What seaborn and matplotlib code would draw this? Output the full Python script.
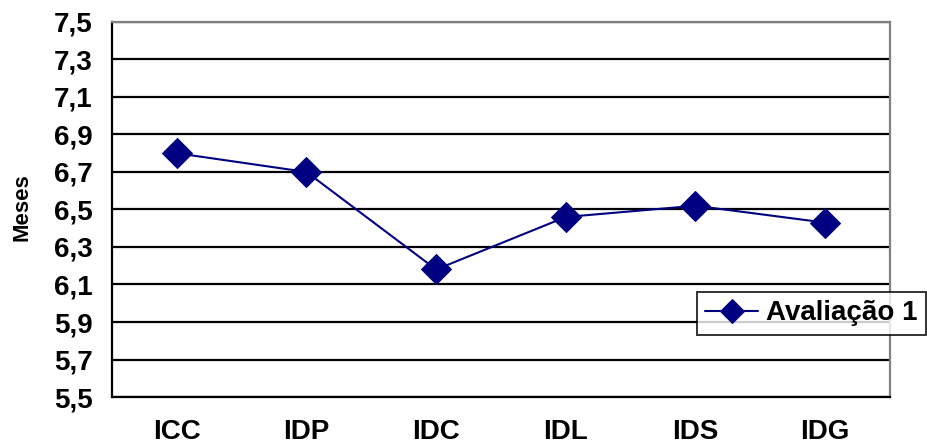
import numpy as np
import pandas as pd
import seaborn as sns
import matplotlib
matplotlib.use("Agg")
import matplotlib.pyplot as plt
from matplotlib.ticker import FuncFormatter, FixedLocator

# data
categories = ["ICC", "IDP", "IDC", "IDL", "IDS", "IDG"]
avaliacao_1 = [6.80, 6.70, 6.18, 6.46, 6.52, 6.43]
y_ticks = [5.5, 5.7, 5.9, 6.1, 6.3, 6.5, 6.7, 6.9, 7.1, 7.3, 7.5]

df = pd.DataFrame({"Indice": categories, "Meses": avaliacao_1})

sns.set_theme(style="white")
plt.rcParams["font.family"] = ["Liberation Sans", "DejaVu Sans"]
plt.rcParams["font.weight"] = "bold"
plt.rcParams["text.color"] = "black"
plt.rcParams["axes.labelcolor"] = "black"
plt.rcParams["xtick.color"] = "black"
plt.rcParams["ytick.color"] = "black"

fig = plt.figure(figsize=(9.28, 4.48), dpi=100)
ax = fig.add_axes([0.1207, 0.1138, 0.8383, 0.8372])

sns.lineplot(
    data=df, x="Indice", y="Meses", sort=False,
    color="#000080", linewidth=1.5,
    marker="D", markersize=15, markeredgecolor="#000080",
    label="Avaliação 1", ax=ax, zorder=3,
)

# axes limits and grid
ax.set_xlim(-0.5, len(categories) - 0.5)
ax.set_ylim(5.5, 7.5)
ax.set_yticks(y_ticks)
ax.yaxis.set_major_formatter(FuncFormatter(lambda v, p: f"{v:.1f}".replace(".", ",")))
ax.grid(axis="y", color="black", linewidth=1.6)
ax.set_axisbelow(True)

# category labels centred, tick marks at boundaries
ax.set_xticks(range(len(categories)))
ax.set_xticklabels(categories)
ax.xaxis.set_minor_locator(FixedLocator(np.arange(-0.5, len(categories), 1.0)))
ax.tick_params(axis="x", which="major", length=0, pad=16, labelsize=20)
ax.tick_params(axis="x", which="minor", length=6, width=1.4, color="black", direction="out")
ax.tick_params(axis="y", length=6, width=1.4, color="black", direction="out", labelsize=20, pad=8)
for lab in ax.get_xticklabels() + ax.get_yticklabels():
    lab.set_fontweight("bold")
    lab.set_color("black")

for side in ["left", "bottom"]:
    ax.spines[side].set_color("black")
    ax.spines[side].set_linewidth(1.6)
for side in ["top", "right"]:
    ax.spines[side].set_color("#808080")
    ax.spines[side].set_linewidth(1.6)

ax.set_xlabel("")
ax.set_ylabel("Meses", fontsize=16, fontweight="bold", color="black")
ax.yaxis.set_label_coords(33 / 928, 1 - 207 / 448, transform=fig.transFigure)

leg = ax.legend(
    loc="upper left", bbox_to_anchor=(697 / 928, 1 - 292 / 448),
    bbox_transform=fig.transFigure, frameon=True, fancybox=False,
    prop={"size": 20, "weight": "bold"}, handlelength=1.9,
    borderpad=0.3, borderaxespad=0, handletextpad=0.3, markerscale=0.8,
)
leg.get_frame().set_edgecolor("black")
leg.get_frame().set_linewidth(1.4)
for t in leg.get_texts():
    t.set_color("black")

fig.savefig("out.png", dpi=100)
